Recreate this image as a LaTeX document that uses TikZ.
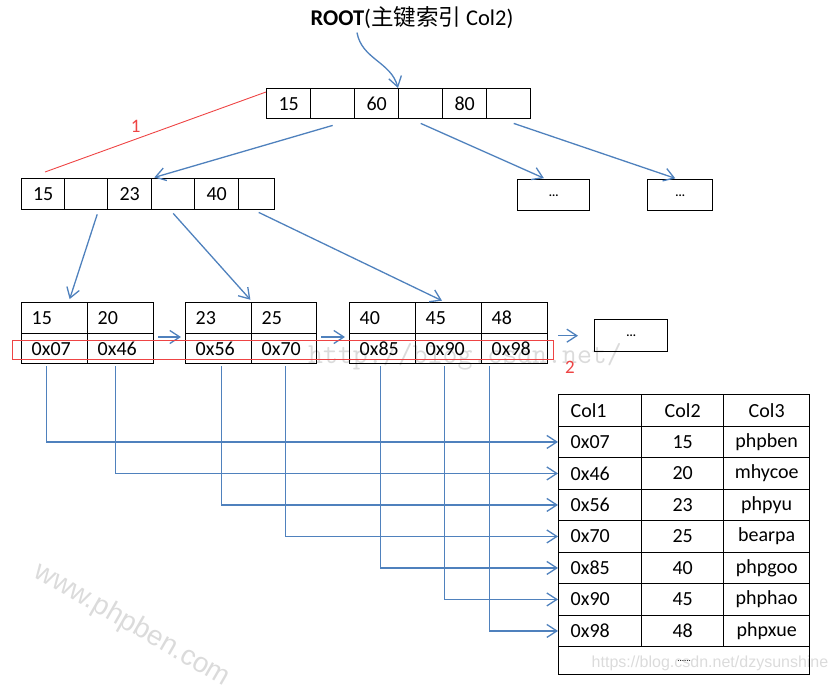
\documentclass[tikz,border=0pt]{standalone}
\usepackage{fontspec}
\setmainfont{Carlito}
\newfontfamily\cjkfont{Noto Sans CJK SC}
\newfontfamily\wmfont{Liberation Sans}
\usetikzlibrary{arrows.meta}
\definecolor{linkblue}{RGB}{79,129,189}
\definecolor{markred}{RGB}{238,68,68}

\begin{document}
\begin{tikzpicture}[x=1pt,y=-1pt,font=\fontsize{20}{23}\selectfont,
  cell/.style={draw, line width=1.4pt, anchor=north west, inner sep=0pt, minimum height=31pt},
  rcell/.style={cell, minimum width=44pt, minimum height=30pt},
  ncell/.style={cell, minimum width=#1},
  lcell/.style={cell, minimum width=#1, text width=#1-20pt, align=left},
  dotbox/.style={cell, minimum width=#1, font=\bfseries\fontsize{12}{12}\selectfont},
  tleft/.style={cell, minimum width=83pt, minimum height=31.5pt, text width=59pt, align=left},
  tmid/.style={cell, minimum width=#1, minimum height=31.5pt},
  link/.style={draw=linkblue, line width=1.3pt, -{Straight Barb[length=10pt,width=13pt,line width=1.3pt]}},
  redline/.style={draw=markred, line width=0.9pt},
  redlabel/.style={text=markred, font=\fontsize{19}{19}\selectfont},
  wm/.style={gray!28}]
  \useasboundingbox (0,0) rectangle (836,685);
  % watermarks
  \draw (465,357) node[wm, font=\ttfamily\fontsize{29}{29}\selectfont]{http://blog.csdn.net/};
  \draw (132,625) node[wm, rotate=-30, font=\wmfont\fontsize{28}{28}\selectfont]{www.phpben.com};
  \draw (710,663) node[wm, font=\wmfont\fontsize{16}{16}\selectfont]{https://blog.csdn.net/dzysunshine};
  % root
  \draw (412,18) node[font=\fontsize{22.5}{25}\selectfont](title){{\bfseries ROOT}({\cjkfont 主键索引} Col2)};
  \draw (266,88) node[rcell](r1){15};
  \draw (310,88) node[rcell](r2){};
  \draw (354,88) node[rcell](r3){60};
  \draw (398,88) node[rcell](r4){};
  \draw (442,88) node[rcell](r5){80};
  \draw (486,88) node[rcell](r6){};
  % second level
  \draw (21,178) node[ncell=43pt](n1){15};
  \draw (64,178) node[ncell=43pt](n2){};
  \draw (107,178) node[ncell=44pt](n3){23};
  \draw (151,178) node[ncell=43pt](n4){};
  \draw (194,178) node[ncell=44pt](n5){40};
  \draw (238,178) node[ncell=36pt](n6){};
  \draw (517,179) node[dotbox=72pt](d1){...};
  \draw (647,179) node[dotbox=65pt](d2){...};
  % leaves
  \draw (21,302) node[lcell=66pt](k11){15};
  \draw (87,302) node[lcell=66pt](k12){20};
  \draw (21,333) node[lcell=66pt, minimum height=30pt](p11){0x07};
  \draw (87,333) node[lcell=66pt, minimum height=30pt](p12){0x46};
  \draw (185,302) node[lcell=66pt](k21){23};
  \draw (251,302) node[lcell=65pt](k22){25};
  \draw (185,333) node[lcell=66pt, minimum height=30pt](p21){0x56};
  \draw (251,333) node[lcell=65pt, minimum height=30pt](p22){0x70};
  \draw (349,302) node[lcell=66pt](k31){40};
  \draw (415,302) node[lcell=66pt](k32){45};
  \draw (481,302) node[lcell=66pt](k33){48};
  \draw (349,333) node[lcell=66pt, minimum height=30pt](p31){0x85};
  \draw (415,333) node[lcell=66pt, minimum height=30pt](p32){0x90};
  \draw (481,333) node[lcell=66pt, minimum height=30pt](p33){0x98};
  \draw (594,319) node[dotbox=73pt, minimum height=32pt](d3){...};
  % table
  \draw (558,394) node[tleft](h1){Col1};
  \draw (641,394) node[tmid=82pt](h2){Col2};
  \draw (723,394) node[tmid=86pt](h3){Col3};
  \draw (558,425.5) node[tleft](a1){0x07};
  \draw (641,425.5) node[tmid=82pt](b1){15};
  \draw (723,425.5) node[tmid=86pt](c1){phpben};
  \draw (558,457) node[tleft](a2){0x46};
  \draw (641,457) node[tmid=82pt](b2){20};
  \draw (723,457) node[tmid=86pt](c2){mhycoe};
  \draw (558,488.5) node[tleft](a3){0x56};
  \draw (641,488.5) node[tmid=82pt](b3){23};
  \draw (723,488.5) node[tmid=86pt](c3){phpyu};
  \draw (558,520) node[tleft](a4){0x70};
  \draw (641,520) node[tmid=82pt](b4){25};
  \draw (723,520) node[tmid=86pt](c4){bearpa};
  \draw (558,551.5) node[tleft](a5){0x85};
  \draw (641,551.5) node[tmid=82pt](b5){40};
  \draw (723,551.5) node[tmid=86pt](c5){phpgoo};
  \draw (558,583) node[tleft](a6){0x90};
  \draw (641,583) node[tmid=82pt](b6){45};
  \draw (723,583) node[tmid=86pt](c6){phphao};
  \draw (558,614.5) node[tleft](a7){0x98};
  \draw (641,614.5) node[tmid=82pt](b7){48};
  \draw (723,614.5) node[tmid=86pt](c7){phpxue};
  \draw (558,646) node[tmid=251pt, minimum height=28pt, font=\fontsize{9}{9}\selectfont](rest){......};
  % tree links
  \draw[link] ([xshift=-55pt]title.south) to[out=-80,in=105] (r4.north west);
  \draw[link, shorten >=2pt] ([yshift=-6pt]r2.south) -- (n3.north east);
  \draw[link, shorten >=2pt] ([yshift=-4pt]r4.south) -- ([xshift=-8pt]d1.north);
  \draw[link, shorten >=2pt] ([xshift=5pt,yshift=-4pt]r6.south) -- ([xshift=-3pt]d2.north);
  \draw[link, shorten >=3pt] ([xshift=11pt,yshift=-4pt]n2.south) -- ([xshift=14pt]k11.north);
  \draw[link, shorten >=3pt] ([yshift=-3pt]n4.south) -- (k21.north east);
  \draw[link, shorten >=3pt] ([xshift=2pt,yshift=-2pt]n6.south) -- ([xshift=-4pt]k32.north);
  % leaf chain
  \draw[link, shorten <=4pt, shorten >=4pt] ([yshift=-4pt]p12.north east) -- ([yshift=-4pt]p21.north west);
  \draw[link, shorten <=4pt, shorten >=4pt] ([yshift=-4pt]p22.north east) -- ([yshift=-4pt]p31.north west);
  \draw[link, shorten <=10pt, shorten >=16pt] (d3.west -| p33.east) -- (d3.west);
  % row pointers
  \draw[link, shorten <=2pt] ([xshift=-8pt]p11.south) |- (a1.west);
  \draw[link, shorten <=2pt] ([xshift=-5pt]p12.south) |- (a2.west);
  \draw[link, shorten <=2pt] ([xshift=3pt]p21.south) |- (a3.west);
  \draw[link, shorten <=2pt] ([xshift=1.5pt]p22.south) |- (a4.west);
  \draw[link, shorten <=2pt] ([xshift=-2pt]p31.south) |- (a5.west);
  \draw[link, shorten <=2pt] ([xshift=-4pt]p32.south) |- (a6.west);
  \draw[link, shorten <=2pt] ([xshift=-25pt]p33.south) |- (a7.west);
  % red marks
  \draw[redline] ([yshift=-4pt]r1.north west) -- node[pos=0.59, above=3pt, redlabel]{1} ([xshift=24pt,yshift=6pt]n1.north west);
  \draw[redline] (12,340) rectangle (553,359);
  \draw (570,367) node[redlabel](two){2};
\end{tikzpicture}
\end{document}
